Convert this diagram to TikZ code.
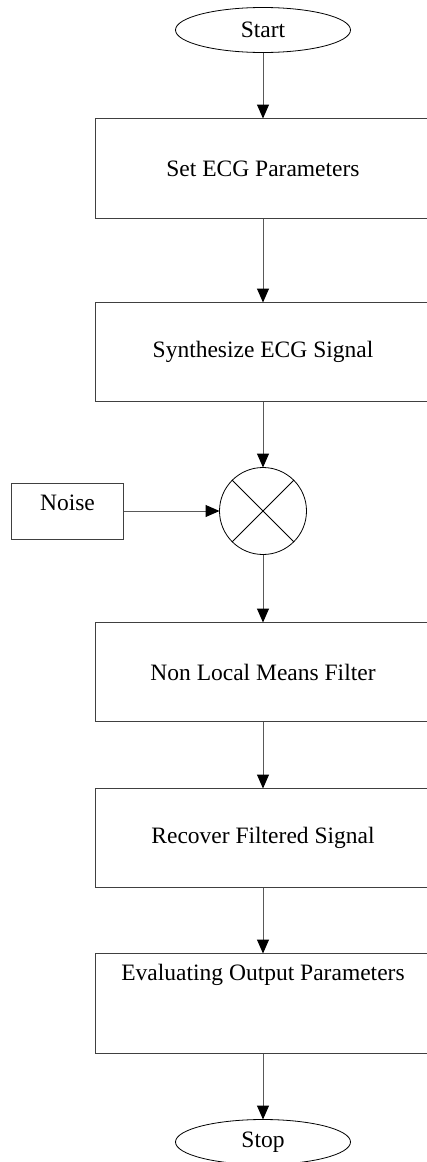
\documentclass[tikz,border=0pt]{standalone}
\usepackage{fontspec}
\setmainfont{Liberation Serif}
\usetikzlibrary{positioning,shapes.geometric,arrows.meta}

\begin{document}
\begin{tikzpicture}[
  node distance=67pt,
  font=\fontsize{23.5}{28}\selectfont,
  termstyle/.style={ellipse, draw=black, line width=0.8pt, inner sep=0, outer sep=0, minimum width=175pt, minimum height=45pt},
  boxstyle/.style={draw=black!75, line width=1pt, inner sep=0, outer sep=0, minimum width=336pt, minimum height=99pt},
  topboxstyle/.style={boxstyle, minimum height=0, text height=27pt, text depth=73pt},
  noisestyle/.style={draw=black!75, line width=1pt, inner sep=0, outer sep=0, minimum width=112pt, text height=27pt, text depth=29pt},
  mixstyle/.style={circle, draw=black, line width=0.8pt, inner sep=0, outer sep=0, minimum size=87pt},
  pathstyle/.style={draw=black!65, line width=1pt, -{Triangle[length=14pt, width=12pt, color=black]}}
]
  \useasboundingbox (0,0) rectangle (427pt,-1162pt);

  \node[termstyle] (START) at (263pt,-30pt)
    {Start};
  \node[boxstyle, minimum height=100pt, below=66pt of START] (SETP)
    {Set ECG Parameters};
  \node[boxstyle, below=84pt of SETP] (SYNTH)
    {Synthesize ECG Signal};
  \node[mixstyle, below=66pt of SYNTH] (MIX)
    {};
  \node[noisestyle, left=96pt of MIX] (NOISE)
    {Noise};
  \node[boxstyle, below=68pt of MIX] (NLM)
    {Non Local Means Filter};
  \node[boxstyle, below=of NLM] (RECOV)
    {Recover Filtered Signal};
  \node[topboxstyle, below=66pt of RECOV] (EVAL)
    {Evaluating Output Parameters};
  \node[termstyle, below=66pt of EVAL] (STOP)
    {Stop};

  % cross inside the mixer
  \draw[black, line width=0.8pt] (MIX.45) -- (MIX.225);
  \draw[black, line width=0.8pt] (MIX.135) -- (MIX.-45);

  \draw[pathstyle] (START) -- (SETP);
  \draw[pathstyle] (SETP) -- (SYNTH);
  \draw[pathstyle] (SYNTH) -- (MIX);
  \draw[pathstyle] (NOISE) -- (MIX);
  \draw[pathstyle] (MIX) -- (NLM);
  \draw[pathstyle] (NLM) -- (RECOV);
  \draw[pathstyle] (RECOV) -- (EVAL);
  \draw[pathstyle] (EVAL) -- (STOP);
\end{tikzpicture}
\end{document}
